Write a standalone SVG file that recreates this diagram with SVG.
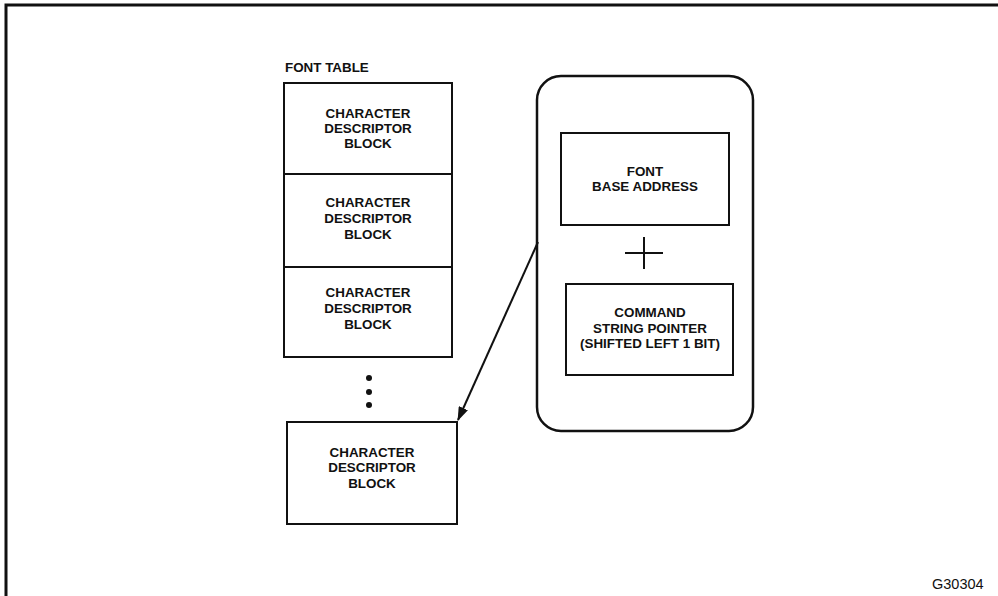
<svg xmlns="http://www.w3.org/2000/svg" width="998" height="596" viewBox="0 0 998 596">
<style>
.b{fill:#fff;stroke:#111;stroke-width:2}
.t{font-family:"Liberation Sans",Arial,sans-serif;font-weight:bold;font-size:13.4px;fill:#111;text-anchor:middle}
.c{stroke:#111;stroke-width:2;fill:none}
</style>
<defs>
<marker id="ah" markerWidth="14" markerHeight="10" refX="13" refY="5" orient="auto" markerUnits="userSpaceOnUse">
<path d="M0,0 L14,5 L0,10 Z" fill="#111"/>
</marker>
</defs>
<rect width="998" height="596" fill="#fff"/>
<g id="frame"><path d="M6,596 V5 H998" fill="none" stroke="#111" stroke-width="3"/></g>
<g id="font-table-label"><text class="t" x="285" y="72" style="text-anchor:start">FONT TABLE</text></g>
<g id="cdb1"><rect class="b" x="284" y="83" width="168" height="91"/>
<text class="t" x="368" y="118">CHARACTER</text><text class="t" x="368" y="133">DESCRIPTOR</text><text class="t" x="368" y="148">BLOCK</text></g>
<g id="cdb2"><rect class="b" x="284" y="174" width="168" height="93"/>
<text class="t" x="368" y="207">CHARACTER</text><text class="t" x="368" y="223">DESCRIPTOR</text><text class="t" x="368" y="239">BLOCK</text></g>
<g id="cdb3"><rect class="b" x="284" y="267" width="168" height="90"/>
<text class="t" x="368" y="297">CHARACTER</text><text class="t" x="368" y="313">DESCRIPTOR</text><text class="t" x="368" y="329">BLOCK</text></g>
<g id="dots" fill="#111"><circle cx="369" cy="378" r="3"/><circle cx="369" cy="392" r="3"/><circle cx="369" cy="405" r="3"/></g>
<g id="cdb4"><rect class="b" x="287" y="422" width="170" height="102"/>
<text class="t" x="372" y="457">CHARACTER</text><text class="t" x="372" y="472">DESCRIPTOR</text><text class="t" x="372" y="488">BLOCK</text></g>
<g id="container"><rect x="537" y="76" width="216" height="355" rx="24" ry="24" fill="#fff" stroke="#111" stroke-width="2.5"/></g>
<g id="fba"><rect class="b" x="561" y="133" width="168" height="92"/>
<text class="t" x="645" y="176">FONT</text><text class="t" x="645" y="191">BASE ADDRESS</text></g>
<g id="plus"><path class="c" d="M644,237 V269 M625,253 H663"/></g>
<g id="csp"><rect class="b" x="566" y="284" width="167" height="91"/>
<text class="t" x="650" y="317">COMMAND</text><text class="t" x="650" y="333">STRING POINTER</text><text class="t" x="650" y="348">(SHIFTED LEFT 1 BIT)</text></g>
<g id="connectors"><line class="c" x1="538" y1="242" x2="458" y2="420" marker-end="url(#ah)"/></g>
<g id="figid"><text x="932" y="589" style="font-family:'Liberation Sans',Arial,sans-serif;font-size:14.5px;fill:#111">G30304</text></g>
</svg>
